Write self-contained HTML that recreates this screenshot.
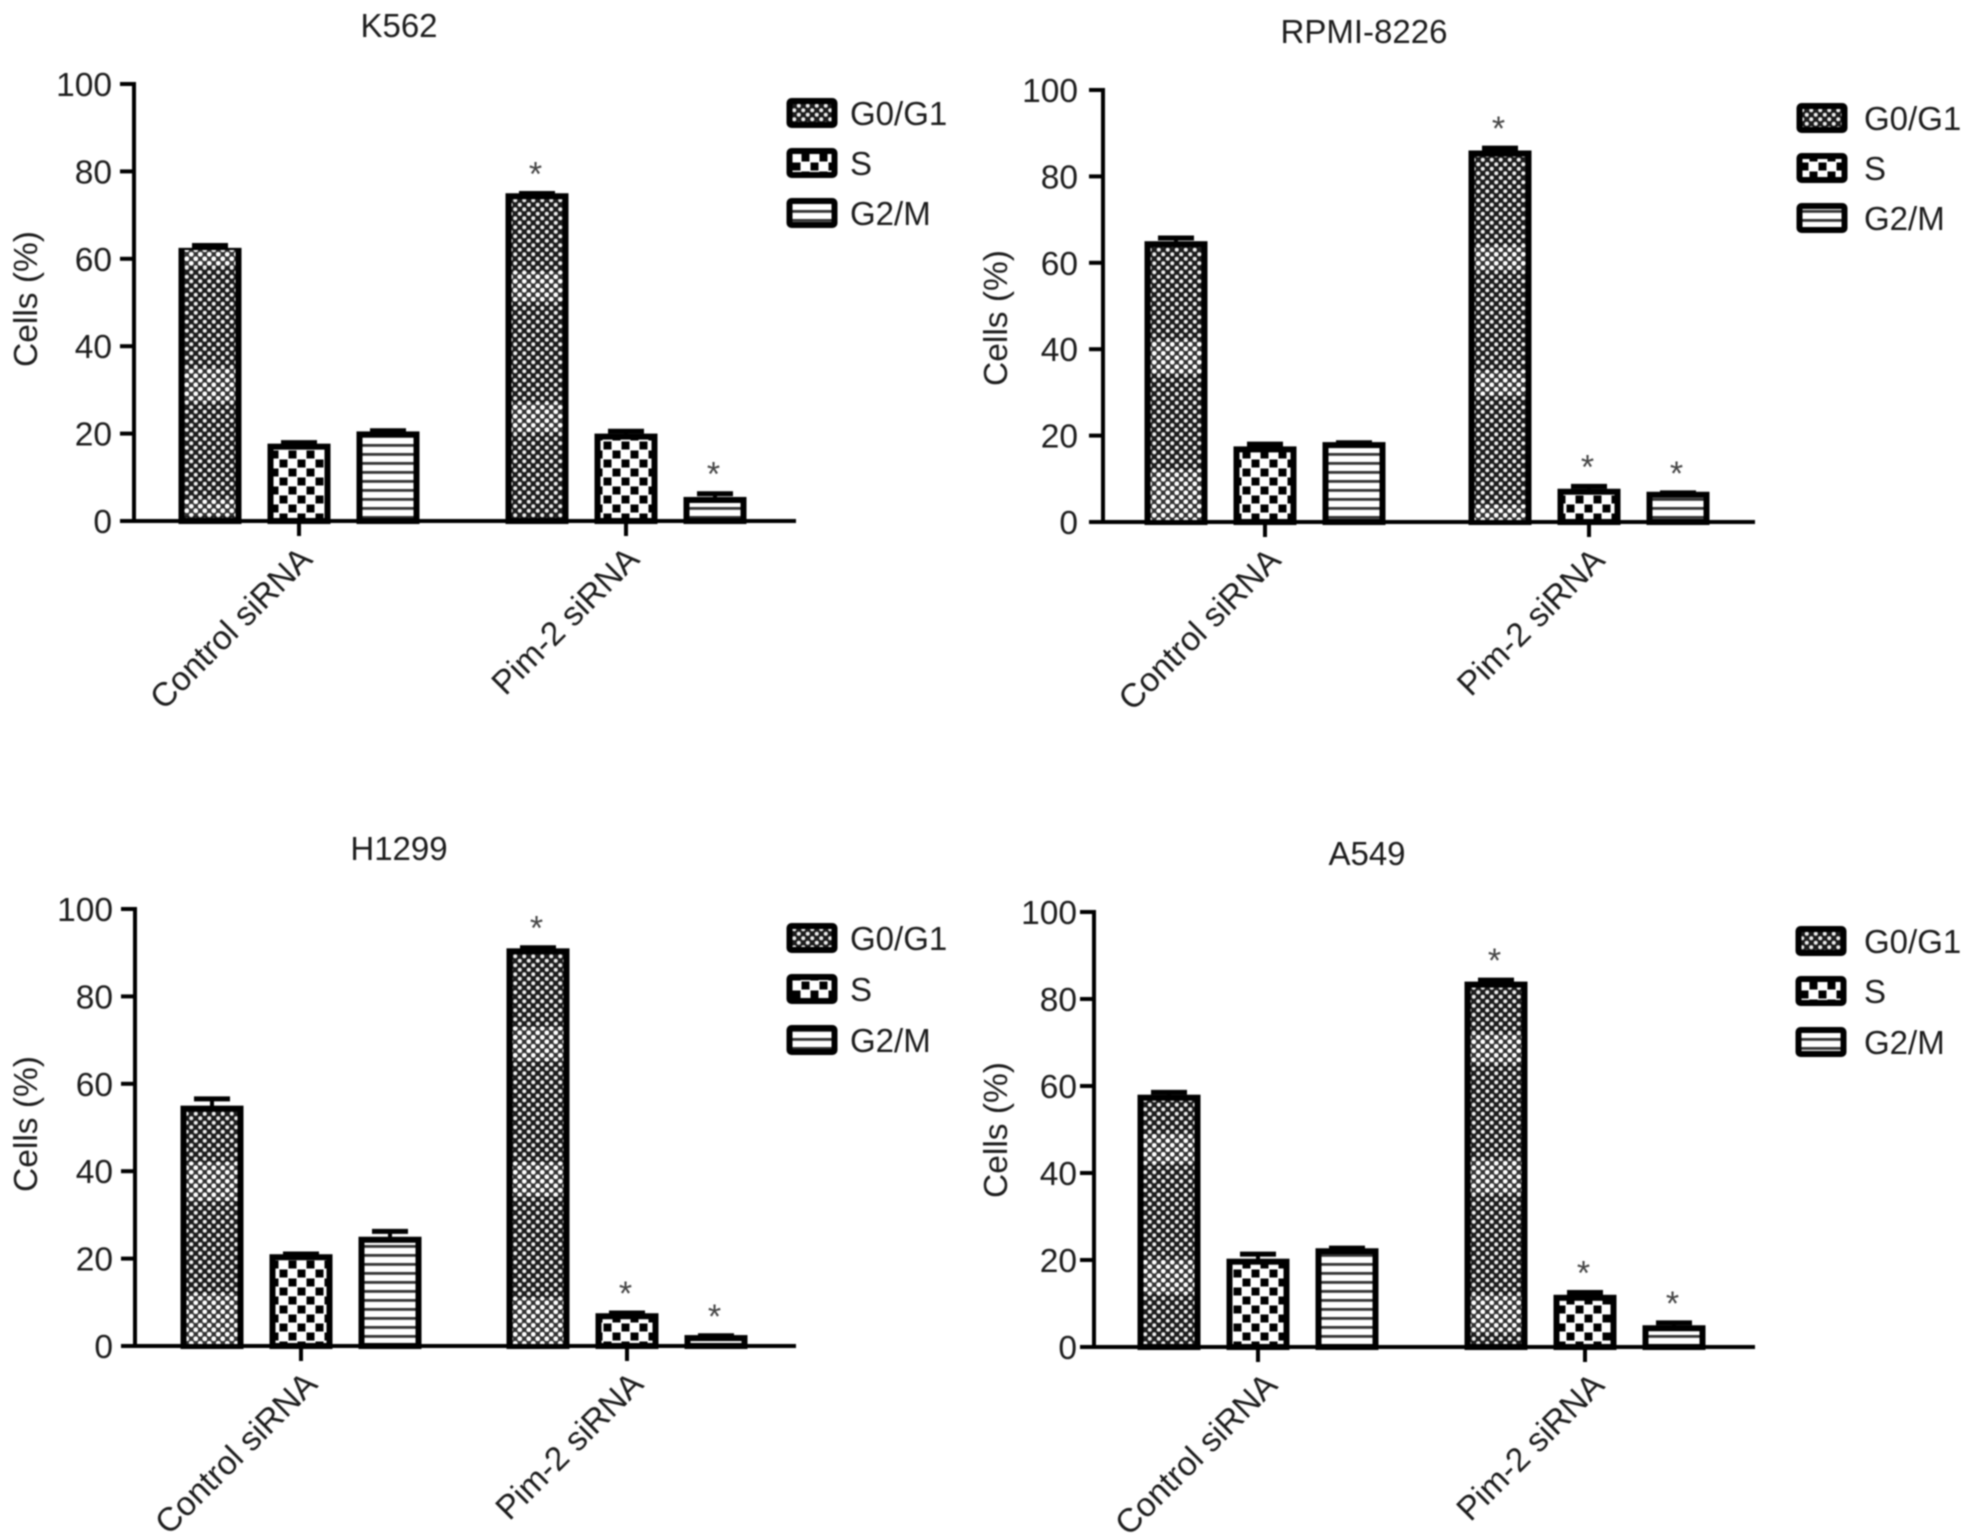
<!DOCTYPE html>
<html lang="en">
<head>
<meta charset="utf-8">
<title>Cell cycle distribution after Pim-2 siRNA</title>
<style>
html,body{margin:0;padding:0;background:#fff;}
#figure{display:block;width:1968px;height:1538px;filter:blur(0.9px);}
text{font-family:"Liberation Sans",sans-serif;fill:#1c1c1c;}
</style>
</head>
<body>
<svg id="figure" xmlns="http://www.w3.org/2000/svg" width="1968" height="1538" viewBox="0 0 1968 1538">
  <defs>
    <pattern id="pat-g0" patternUnits="userSpaceOnUse" width="9" height="9">
      <rect width="9" height="9" fill="#1c1c1c"/>
      <circle cx="2.25" cy="2.25" r="2" fill="#eee"/>
      <circle cx="6.75" cy="6.75" r="2" fill="#eee"/>
    </pattern>
    <pattern id="pat-g0-light" patternUnits="userSpaceOnUse" width="9" height="9">
      <rect width="9" height="9" fill="#333"/>
      <circle cx="2.25" cy="2.25" r="2.4" fill="#fff"/>
      <circle cx="6.75" cy="6.75" r="2.4" fill="#fff"/>
    </pattern>
    <pattern id="pat-s" patternUnits="userSpaceOnUse" width="18" height="18">
      <rect width="18" height="18" fill="#fff"/>
      <rect x="0.5" y="0.5" width="8" height="8" fill="#000"/>
      <rect x="9.5" y="9.5" width="8" height="8" fill="#000"/>
    </pattern>
    <pattern id="pat-g2" patternUnits="userSpaceOnUse" width="9" height="9">
      <rect width="9" height="9" fill="#fff"/>
      <rect y="3" width="9" height="2.8" fill="#333"/>
    </pattern>
  </defs>
</svg>
<script>
var categories = ['Control siRNA', 'Pim-2 siRNA'];
var seriesNames = ['G0/G1', 'S', 'G2/M'];
var yTicks = [0, 20, 40, 60, 80, 100];

var k562Values = [[62.5, 17.7, 20.5], [75, 20, 5.5]];
var k562Errors = [[1, 0.7, 0.6], [0.4, 1, 1.2]];
var k562Stars = [[0, 0, 0], [1, 0, 1]];
var k562Bands = [[[1, 5], [27, 35], [58, 62]], [[20, 27], [50, 57]]];

var rpmiValues = [[65, 17.5, 18.5], [86, 7.7, 7]];
var rpmiErrors = [[1.2, 1, 0.3], [1, 1, 0.2]];
var rpmiStars = [[0, 0, 0], [1, 1, 1]];
var rpmiBands = [[[0, 12], [34, 42]], [[0, 4], [29, 35], [58, 64]]];

var h1299Values = [[55, 21, 25], [91, 7.5, 2.5]];
var h1299Errors = [[2, 0.5, 1.7], [0.6, 0.5, 0.3]];
var h1299Stars = [[0, 0, 0], [1, 1, 1]];
var h1299Bands = [[[0, 12], [33, 42]], [[0, 11], [34, 42], [65, 73]]];

var a549Values = [[58, 20.3, 22.7], [84, 12, 5]];
var a549Errors = [[1, 1.5, 0.5], [0.8, 1, 1]];
var a549Stars = [[0, 0, 0], [1, 1, 1]];
var a549Bands = [[[12, 20], [42, 49]], [[3, 12], [35, 43], [65, 72]]];

var panels = [
  {key:'k562', title:'K562', values:k562Values, errors:k562Errors, stars:k562Stars, bands:k562Bands,
   axisX:134, yTop:84, yBottom:521, xStart:122, xEnd:796, groupX:[299, 626], titleX:399, titleY:37,
   legendX:787, legendTextX:850, legendY:[113, 163, 213], yTitleX:37, yTitleY:299, labelDX:2, tickLabelDX:-1},
  {key:'rpmi-8226', title:'RPMI-8226', values:rpmiValues, errors:rpmiErrors, stars:rpmiStars, bands:rpmiBands,
   axisX:1103, yTop:90, yBottom:522, xStart:1091, xEnd:1755, groupX:[1265, 1589], titleX:1364, titleY:43,
   legendX:1797, legendTextX:1864, legendY:[118, 168, 218], yTitleX:1007, yTitleY:318, labelDX:4.5, tickLabelDX:-4},
  {key:'h1299', title:'H1299', values:h1299Values, errors:h1299Errors, stars:h1299Stars, bands:h1299Bands,
   axisX:135, yTop:909, yBottom:1346, xStart:123, xEnd:796, groupX:[301, 627], titleX:399, titleY:860,
   legendX:787, legendTextX:850, legendY:[938, 989, 1040], yTitleX:37, yTitleY:1124, labelDX:5, tickLabelDX:-1},
  {key:'a549', title:'A549', values:a549Values, errors:a549Errors, stars:a549Stars, bands:a549Bands,
   axisX:1094, yTop:912, yBottom:1347, xStart:1082, xEnd:1755, groupX:[1258, 1585], titleX:1367, titleY:865,
   legendX:1796, legendTextX:1864, legendY:[941, 991, 1042], yTitleX:1007, yTitleY:1130, labelDX:8, tickLabelDX:4}
];

var BAR_STEP = 89;
var BAR_W = 57;
var STROKE = 6;
var FONT = 33.5;
var TITLE_FONT = 33;
var patternIds = ['pat-g0', 'pat-s', 'pat-g2'];
var svg = document.getElementById('figure');
var NS = 'http://www.w3.org/2000/svg';

function mk(parent, tag, attrs, txt) {
  var el = document.createElementNS(NS, tag);
  for (var k in attrs) { el.setAttribute(k, attrs[k]); }
  if (txt !== undefined) { el.textContent = txt; }
  parent.appendChild(el);
  return el;
}

function drawPanel(p) {
  var g = mk(svg, 'g', {});
  
  

  function yScale(v) { return p.yBottom - (v / 100) * (p.yBottom - p.yTop); }
  function xScale(groupIndex, seriesIndex) { return p.groupX[groupIndex] + (seriesIndex - 1) * BAR_STEP; }

  var title = mk(g, 'text', {x:p.titleX, y:p.titleY, 'text-anchor':'middle', 'font-size':TITLE_FONT}, p.title);
  
  

  var yTitle = mk(g, 'text', {x:0, y:0, 'text-anchor':'middle', 'font-size':FONT,
    transform:'translate(' + p.yTitleX + ',' + p.yTitleY + ') rotate(-90)'}, 'Cells (%)');
  
  

  categories.forEach(function (cat, ci) {
    seriesNames.forEach(function (sn, si) {
      var cx = xScale(ci, si);
      var v = p.values[ci][si];
      var e = p.errors[ci][si];
      var top = yScale(v) + 3;
      var errTop = yScale(v + e) + 2;

      var errStem = mk(g, 'line', {x1:cx, x2:cx, y1:top, y2:errTop, stroke:'#000', 'stroke-width':4});
      
      

      var errCap = mk(g, 'line', {x1:cx - 18, x2:cx + 18, y1:errTop, y2:errTop, stroke:'#000', 'stroke-width':5});
      
      

      var bar = mk(g, 'rect', {x:cx - BAR_W / 2, y:top, width:BAR_W, height:p.yBottom - top,
        fill:'url(#' + patternIds[si] + ')', stroke:'#000', 'stroke-width':STROKE});
      
      

      if (si === 0) {
        p.bands[ci].forEach(function (b) {
          var band = mk(g, 'rect', {x:cx - BAR_W / 2 + 3, y:yScale(b[1]), width:BAR_W - 6,
            height:yScale(b[0]) - yScale(b[1]) - 1, fill:'url(#pat-g0-light)'});
          
          
        });
      }

      if (p.stars[ci][si]) {
        var star = mk(g, 'text', {x:cx - 1.5, y:errTop - 8, 'text-anchor':'middle', 'font-size':34, style:'fill:#444'}, '*');
        
        
      }
    });

    var tick = mk(g, 'line', {x1:p.groupX[ci], x2:p.groupX[ci], y1:p.yBottom, y2:p.yBottom + 15, stroke:'#000', 'stroke-width':4});
    
    

    var lab = mk(g, 'text', {x:0, y:0, 'text-anchor':'end', 'font-size':FONT,
      transform:'translate(' + (p.groupX[ci] + 13 + p.labelDX) + ',' + (p.yBottom + 40) + ') rotate(-45)'}, cat);
    
    
  });

  var yAxis = mk(g, 'line', {x1:p.axisX, x2:p.axisX, y1:p.yTop - 2, y2:p.yBottom, stroke:'#000', 'stroke-width':4});
  
  

  var xAxis = mk(g, 'line', {x1:p.xStart, x2:p.xEnd, y1:p.yBottom, y2:p.yBottom, stroke:'#000', 'stroke-width':4});
  
  

  yTicks.forEach(function (t) {
    var y = yScale(t);
    var tk = mk(g, 'line', {x1:p.axisX - 14, x2:p.axisX, y1:y, y2:y, stroke:'#000', 'stroke-width':4});
    
    
    var tl = mk(g, 'text', {x:p.axisX - 21 + p.tickLabelDX, y:y + 12, 'text-anchor':'end', 'font-size':FONT}, String(t));
    
    
  });

  seriesNames.forEach(function (sn, si) {
    var ly = p.legendY[si];
    var sw = mk(g, 'rect', {x:p.legendX + 2.5, y:ly - 12, width:45, height:24, rx:2,
      fill:'url(#' + patternIds[si] + ')', stroke:'#000', 'stroke-width':6});
    
    
    var lt = mk(g, 'text', {x:p.legendTextX, y:ly + 12, 'font-size':33}, sn);
    
    
  });
}

panels.forEach(drawPanel);
</script>
</body>
</html>
